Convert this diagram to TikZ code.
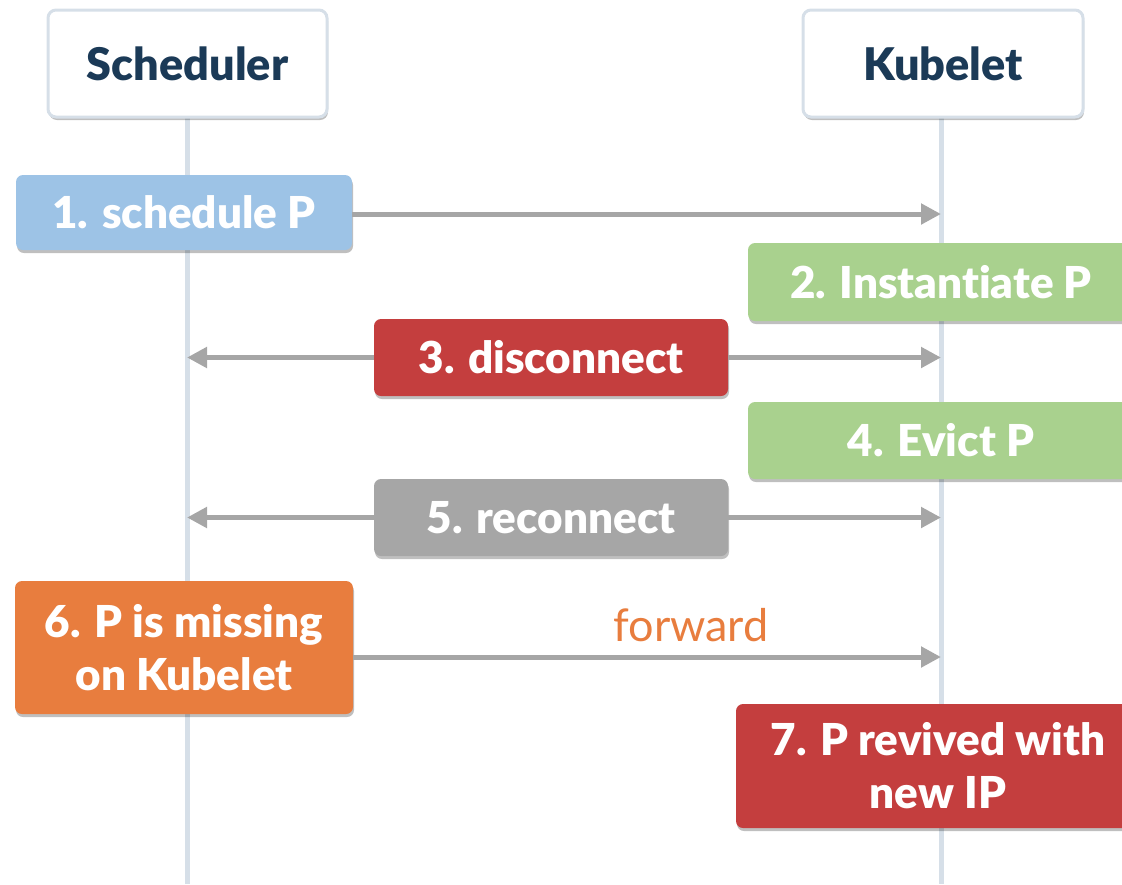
\documentclass[tikz,border=0pt]{standalone}
\usepackage{fontspec}
\setmainfont{Lato}[BoldFont={Lato Black},Ligatures=NoCommon]
\usetikzlibrary{shadows,arrows.meta}
\definecolor{navy}{HTML}{1B3A57}
\definecolor{lifegray}{HTML}{D6DFE8}
\definecolor{arrowgray}{HTML}{A6A6A6}
\definecolor{stepblue}{HTML}{9DC3E6}
\definecolor{stepgreen}{HTML}{A9D18E}
\definecolor{stepred}{HTML}{C43E3E}
\definecolor{stepgray}{HTML}{A6A6A6}
\definecolor{steporange}{HTML}{E87D3E}
\begin{document}
\begin{tikzpicture}[x=1pt,y=-1pt,
  shadowed/.style={drop shadow={shadow xshift=1pt,shadow yshift=-3pt,opacity=0.25,fill=black}},
  actor/.style={shadowed,draw=lifegray,line width=3pt,fill=white,rounded corners=8pt,
    inner sep=0pt,text=navy,font=\fontsize{45}{48}\selectfont\bfseries},
  stepbox/.style={shadowed,rounded corners=7pt,inner sep=0pt,text=white,align=center,
    font=\fontsize{44}{53}\selectfont\bfseries},
  lifeline/.style={draw=lifegray,line width=5pt},
  msg/.style={draw=arrowgray,line width=5pt,-{Triangle[length=20pt,width=20pt]}},
]
\useasboundingbox (0,0) rectangle (1122,884);
\clip (0,0) rectangle (1122,884);

% lifelines
\coordinate (stop) at (187,884);
\coordinate (ktop) at (941,884);
\draw[lifeline] (187,110) -- (stop);
\draw[lifeline] (941,110) -- (ktop);
\coordinate (sl) at (187,0);
\coordinate (kl) at (941,0);

% actors
\node[actor,minimum width=279pt,minimum height=107pt] (sched) at (187.5,63.5) {Scheduler};
\node[actor,minimum width=280pt,minimum height=107pt] (kube) at (943,63.5) {Kubelet};

% steps
\node[stepbox,fill=stepblue,minimum width=336pt,minimum height=75pt] (b1) at (184,212.5) {1. schedule P};
\node[stepbox,fill=stepgreen,minimum width=386pt,minimum height=78pt] (b2) at (941,282) {2. Instantiate P};
\node[stepbox,fill=stepred,minimum width=354pt,minimum height=77pt] (b3) at (551,357.5) {3. disconnect};
\node[stepbox,fill=stepgreen,minimum width=386pt,minimum height=77pt] (b4) at (941,440.5) {4. Evict P};
\node[stepbox,fill=stepgray,minimum width=354pt,minimum height=77pt] (b5) at (551,517.5) {5. reconnect};
\node[stepbox,fill=steporange,minimum width=338pt,minimum height=133pt] (b6) at (184,647.5) {6. P is missing\\on Kubelet};
\node[stepbox,fill=stepred,minimum width=404pt,minimum height=124pt] (b7) at (938,766) {7. P revived with\\new IP};

% messages
\coordinate (f1) at ([yshift=-1.5pt]b1.east);
\draw[msg] (f1) -- (f1 -| kl);
\draw[msg] (b3.west) -- (b3.west -| sl);
\draw[msg] (b3.east) -- (b3.east -| kl);
\draw[msg] (b5.west) -- (b5.west -| sl);
\draw[msg] (b5.east) -- (b5.east -| kl);
\coordinate (f6) at ([yshift=-9.5pt]b6.east);
\draw[msg] (f6) -- (f6 -| kl);
\node[text=steporange,font=\fontsize{45}{48}\selectfont] (fwd) at (691,625) {forward};
\end{tikzpicture}
\end{document}
